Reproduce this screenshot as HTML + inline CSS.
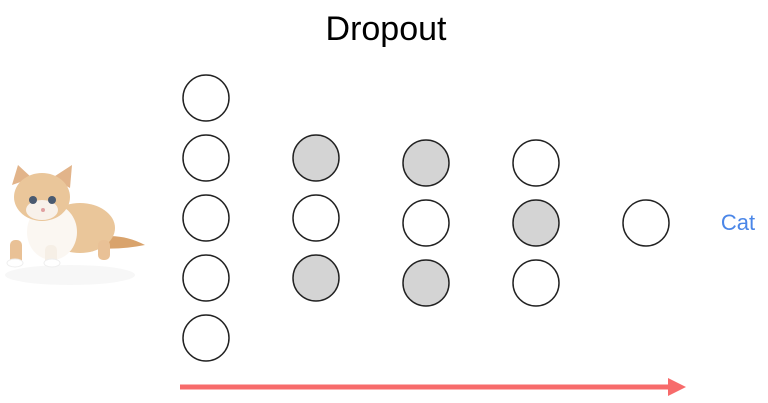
<!DOCTYPE html>
<html><head><meta charset="utf-8"><style>
body{margin:0;background:#fff;width:768px;height:403px;overflow:hidden}
svg{display:block}
</style></head><body>
<svg id="chart" width="768" height="403" viewBox="0 0 768 403">
<text x="386" y="40" text-anchor="middle" font-family="Liberation Sans, sans-serif" font-size="34" fill="#000">Dropout</text>
<g>
 <ellipse cx="70" cy="275" rx="65" ry="10" fill="#f7f7f7"/>
 <path d="M95 238 Q120 232 145 245 Q120 250 95 248Z" fill="#d9a36c"/>
 <ellipse cx="80" cy="228" rx="35" ry="25" fill="#eac69a"/>
 <ellipse cx="52" cy="232" rx="25" ry="28" fill="#fbf7f2"/>
 <rect x="10" y="240" width="12" height="25" rx="5" fill="#e9c196"/>
 <rect x="45" y="245" width="12" height="20" rx="5" fill="#f6efe6"/>
 <rect x="98" y="240" width="12" height="20" rx="5" fill="#e9c196"/>
 <ellipse cx="15" cy="263" rx="8" ry="4" fill="#fff" stroke="#eee"/>
 <ellipse cx="52" cy="263" rx="8" ry="4" fill="#fff" stroke="#eee"/>
 <polygon points="12,185 18,165 32,178" fill="#e2b48a"/>
 <polygon points="52,178 72,165 70,188" fill="#e2b48a"/>
 <ellipse cx="42" cy="197" rx="28" ry="24" fill="#eac69a"/>
 <ellipse cx="42" cy="210" rx="16" ry="10" fill="#f8f1ea"/>
 <circle cx="33" cy="200" r="4" fill="#4a5a70"/>
 <circle cx="52" cy="200" r="4" fill="#4a5a70"/>
 <circle cx="43" cy="210" r="2" fill="#e0a0a0"/>
</g>
<g id="nodes"></g>
<text x="738" y="230" text-anchor="middle" font-family="Liberation Sans, sans-serif" font-size="22" fill="#4a86e8">Cat</text>
<g>
 <line x1="180" y1="387" x2="670" y2="387" stroke="#f76b6b" stroke-width="5"/>
 <polygon points="668,378 686,387 668,396" fill="#f76b6b"/>
</g>
</svg>
<script>
const layerX = [206, 316, 426, 536, 646];
const layerCenterY = [218, 218, 223, 223, 223];
const layerStates = [
  [0,0,0,0,0],
  [1,0,1],
  [1,0,1],
  [0,1,0],
  [0]
];
const spacing = 60, r = 23;
const g = document.getElementById('nodes');
const ns = 'http://www.w3.org/2000/svg';
layerStates.forEach((states, li) => {
  const n = states.length;
  states.forEach((s, i) => {
    const c = document.createElementNS(ns, 'circle');
    c.setAttribute('cx', layerX[li]);
    c.setAttribute('cy', layerCenterY[li] + (i - (n - 1) / 2) * spacing);
    c.setAttribute('r', r);
    c.setAttribute('fill', s ? '#d4d4d4' : '#fff');
    c.setAttribute('stroke', '#222');
    c.setAttribute('stroke-width', '1.5');
    
    
    g.appendChild(c);
  });
});
</script>
</body></html>
